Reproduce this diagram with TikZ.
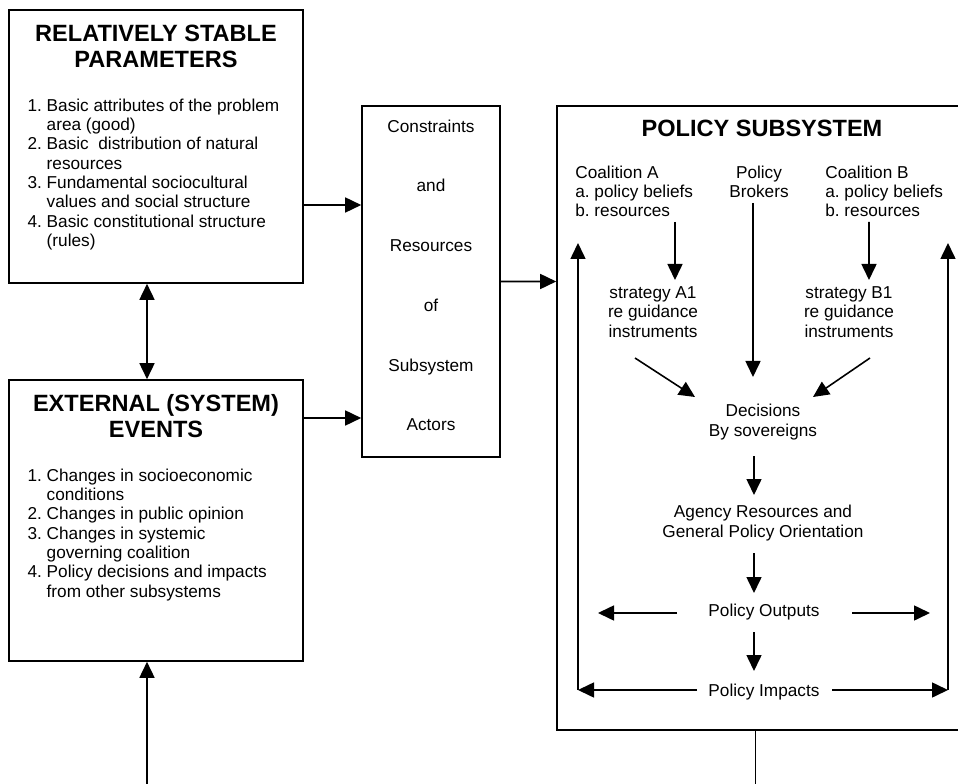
\documentclass[tikz,border=0pt]{standalone}
\usepackage{fontspec}
\setmainfont{Liberation Sans}
\usetikzlibrary{arrows.meta}

\begin{document}
\begin{tikzpicture}[
  box/.style={draw, line width=0.9pt, inner sep=0pt},
  head/.style={font=\fontsize{13.4}{14.8}\selectfont\bfseries, align=center, anchor=base, inner sep=0pt},
  txt/.style={font=\fontsize{9.8}{11}\selectfont, inner sep=0pt},
  arr/.style={-{Triangle[length=0.32cm, width=0.3cm]}, line width=0.9pt},
  darr/.style={{Triangle[length=0.32cm, width=0.3cm]}-{Triangle[length=0.32cm, width=0.3cm]}, line width=0.9pt},
]
  \useasboundingbox (0,0) rectangle (19.16,-15.68);
  \clip (0,0) rectangle (19.16,-15.68);

  % left column and middle box
  \node[box, minimum width=5.88cm, minimum height=5.46cm] (stable) at (3.12,-2.93) {};
  \node[box, minimum width=5.88cm, minimum height=5.62cm] (extern) at (3.12,-10.41) {};
  \node[box, minimum width=2.76cm, minimum height=7.02cm] (res) at (8.62,-5.63) {};
  % the subsystem runs off to the right
  \node[box, minimum width=8.36cm, minimum height=12.48cm] (subsys) at (15.32,-8.36) {};

  % base of a multi-line node is its last line
  \node[head] (stablehead) at ([yshift=-1.16cm]stable.north) {RELATIVELY STABLE\\PARAMETERS};
  \node[txt, anchor=base west] (stablelist) at ([xshift=0.38cm, yshift=-2.04cm]stable.north west) {%
    \begin{tabular}[t]{@{}l@{\ }l@{}}
      1. & Basic attributes of the problem\\
         & area (good)\\
      2. & Basic~ distribution of natural\\
         & resources\\
      3. & Fundamental sociocultural\\
         & values and social structure\\
      4. & Basic constitutional structure\\
         & (rules)
    \end{tabular}};

  \node[head] (externhead) at ([yshift=-1.16cm]extern.north) {EXTERNAL (SYSTEM)\\EVENTS};
  \node[txt, anchor=base west] (externlist) at ([xshift=0.38cm, yshift=-2.04cm]extern.north west) {%
    \begin{tabular}[t]{@{}l@{\ }l@{}}
      1. & Changes in socioeconomic\\
         & conditions\\
      2. & Changes in public opinion\\
      3. & Changes in systemic\\
         & governing coalition\\
      4. & Policy decisions and impacts\\
         & from other subsystems
    \end{tabular}};

  \node[txt, align=center, anchor=base, font=\fontsize{9.8}{34}\selectfont] (restext) at ([yshift=0.54cm]res.south)
    {Constraints\\and\\Resources\\of\\Subsystem\\Actors};

  % inside the policy subsystem
  \node[head] (subhead) at (15.24,-2.74) {POLICY SUBSYSTEM};
  \node[txt, align=left, anchor=base west] (coalA) at (11.5,-4.34) {Coalition A\\a.\ policy beliefs\\b.\ resources};
  \node[txt, align=center, anchor=base] (brokers) at (15.18,-3.96) {Policy\\Brokers};
  \node[txt, align=left, anchor=base west] (coalB) at (16.5,-4.34) {Coalition B\\a.\ policy beliefs\\b.\ resources};
  \node[txt, align=center, anchor=base] (stratA) at (13.06,-6.74) {strategy A1\\re guidance\\instruments};
  \node[txt, align=center, anchor=base] (stratB) at (16.98,-6.74) {strategy B1\\re guidance\\instruments};
  \node[txt, align=center, anchor=base] (decide) at (15.26,-8.72) {Decisions\\By sovereigns};
  \node[txt, align=center, anchor=base] (agency) at (15.26,-10.74) {Agency Resources and\\General Policy Orientation};
  \node[txt, anchor=base] (outputs) at (15.28,-12.32) {Policy Outputs};
  \node[txt, anchor=base] (impacts) at (15.28,-13.92) {Policy Impacts};

  \coordinate (loopL) at ([shift={(-3.72,0.12)}]impacts.base);
  \coordinate (loopR) at ([shift={(3.68,0.12)}]impacts.base);
  \coordinate (feedin) at (2.94,-16);
  \coordinate (feedout) at (15.1,-16);

  % between the boxes
  \draw[darr] ([xshift=-0.18cm]stable.south) -- ([xshift=-0.18cm]extern.north);
  \draw[arr] ([yshift=-1.17cm]stable.east) -- ([yshift=1.53cm]res.west);
  \draw[arr] ([yshift=2.05cm]extern.east) -- ([yshift=-2.73cm]res.west);
  \draw[arr] (res.east) -- ([yshift=2.73cm]subsys.west);
  \draw[arr] (feedin) -- ([xshift=-0.18cm]extern.south);
  \draw ([xshift=-0.22cm]subsys.south) -- (feedout);

  % flow inside the subsystem
  \draw[arr] ([shift={(2.0,-0.1)}]coalA.base west) -- ([shift={(0.44,1.14)}]stratA.base);
  \draw[arr] ([shift={(0.88,-0.1)}]coalB.base west) -- ([shift={(0.4,1.14)}]stratB.base);
  \draw[arr] ([shift={(-0.12,-0.1)}]brokers.base) -- ([shift={(-0.2,1.18)}]decide.base);
  \draw[arr] ([shift={(-0.36,-0.42)}]stratA.base) -- ([shift={(-1.36,0.78)}]decide.base);
  \draw[arr] ([shift={(0.42,-0.42)}]stratB.base) -- ([shift={(1.0,0.78)}]decide.base);
  \draw[arr] ([shift={(-0.18,-0.4)}]decide.base) -- ([shift={(-0.18,0.84)}]agency.base);
  \draw[arr] ([shift={(-0.18,-0.32)}]agency.base) -- ([shift={(-0.2,0.46)}]outputs.base);
  \draw[arr] ([shift={(-0.2,-0.32)}]outputs.base) -- ([shift={(-0.2,0.5)}]impacts.base);
  \draw[arr] ([shift={(-1.74,0.06)}]outputs.base) -- ++(-1.58,0);
  \draw[arr] ([shift={(1.76,0.06)}]outputs.base) -- ++(1.56,0);
  \draw[arr] ([shift={(-1.34,0.12)}]impacts.base) -- (loopL);
  \draw[arr] ([shift={(1.36,0.12)}]impacts.base) -- (loopR);
  \draw[arr] (loopL) -- ++(0,8.94);
  \draw[arr] (loopR) -- ++(0,8.94);
\end{tikzpicture}
\end{document}
